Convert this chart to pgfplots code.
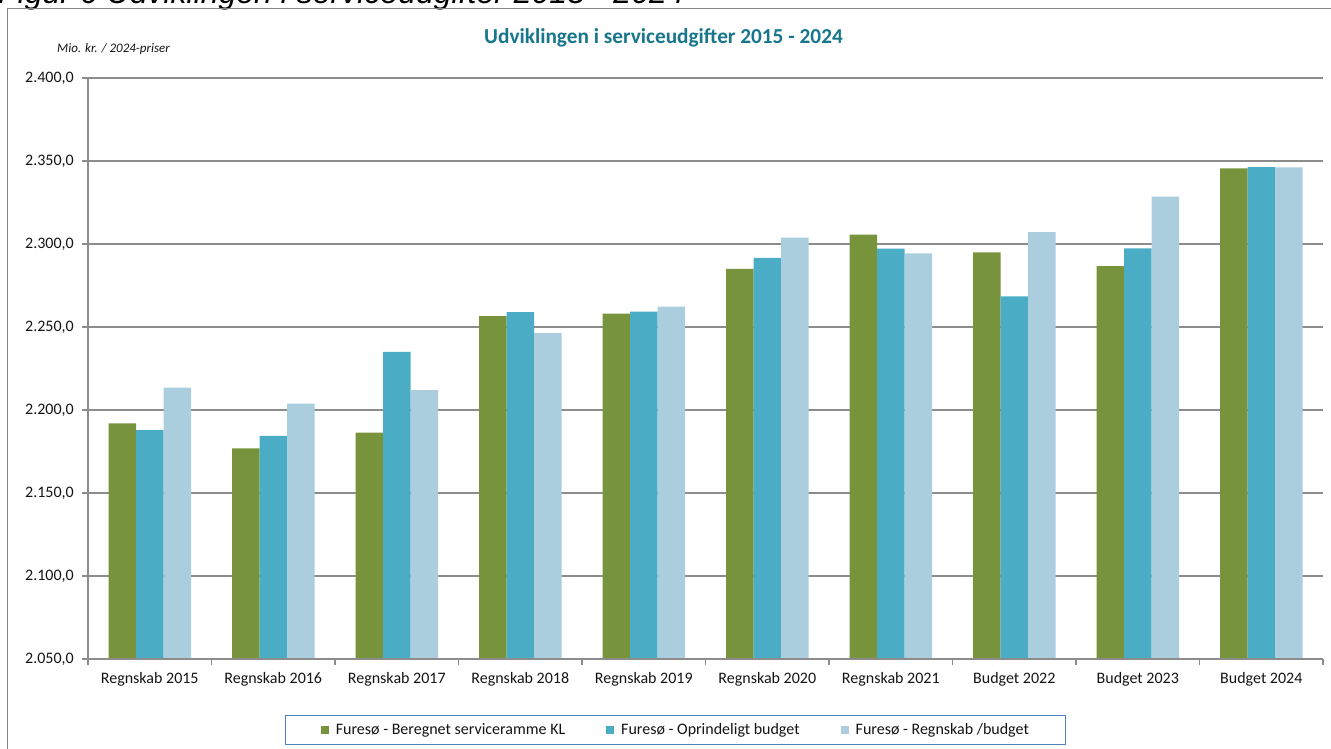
\documentclass[border=0pt]{standalone}
\usepackage{pgfplots}
\pgfplotsset{compat=1.18}
\usepackage{pgfplotstable}
\usepackage{fontspec}
\setmainfont{Carlito}
\newfontfamily\arialfont{Liberation Sans}
\definecolor{cgreen}{RGB}{119,147,60}
\definecolor{cblue}{RGB}{75,172,198}
\definecolor{clight}{RGB}{170,206,221}
\definecolor{cgrid}{RGB}{140,140,140}
\definecolor{ctitle}{RGB}{23,118,140}
\definecolor{clegbox}{RGB}{79,129,189}
\definecolor{ctext}{RGB}{20,20,20}
\definecolor{cframe}{RGB}{134,134,134}

\pgfplotstableread{
x g b l
0 2192.0 2187.8 2213.5
1 2176.9 2184.4 2203.8
2 2186.4 2235.0 2212.0
3 2256.6 2258.9 2246.3
4 2258.0 2259.3 2262.2
5 2285.0 2291.6 2303.8
6 2305.7 2297.2 2294.4
7 2294.9 2268.5 2307.2
8 2286.7 2297.3 2328.5
9 2345.5 2346.3 2346.1
}\data

\begin{document}
\begin{tikzpicture}
\path[use as bounding box, clip] (0pt,0pt) rectangle (1331pt,749pt);
\node[anchor=base west, font=\arialfont\itshape\fontsize{32}{38}\selectfont, text=black, inner sep=0pt] at (-2pt,745.5pt) {Figur 6 Udviklingen i serviceudgifter 2015 - 2024};
\draw[cframe, line width=1.2pt] (7.5pt,-20pt) -- (7.5pt,740.3pt) -- (1350pt,740.3pt);
\node[anchor=base, font=\bfseries\fontsize{21.3}{25}\selectfont, text=ctitle, inner sep=0pt] at (663.5pt,705.5pt) {Udviklingen i serviceudgifter 2015 - 2024};
\node[anchor=base west, font=\itshape\fontsize{13}{15}\selectfont, text=ctext, inner sep=0pt] at (57pt,696pt) {Mio. kr. / 2024-priser};
\begin{axis}[
  at={(88pt,90pt)}, anchor=south west,
  scale only axis, width=1235pt, height=581pt,
  ybar=0pt, bar width=27.5pt,
  xmin=-0.5, xmax=9.5, ymin=2050, ymax=2400,
  clip mode=individual,
  axis line style={draw=none},
  xtick={0,...,9},
  xticklabels={Regnskab 2015,Regnskab 2016,Regnskab 2017,Regnskab 2018,Regnskab 2019,Regnskab 2020,Regnskab 2021,Budget 2022,Budget 2023,Budget 2024},
  minor xtick={-0.5,0.5,...,9.5},
  xtick pos=bottom, ytick pos=left,
  major x tick style={draw=none},
  minor x tick style={cgrid, line width=1.2pt},
  major y tick style={cgrid, line width=1.2pt},
  tick align=outside,
  major tick length=6pt, minor tick length=6pt,
  ytick={2050,2100,...,2400},
  ymajorgrids, major grid style={cgrid, line width=1.3pt},
  /pgf/number format/.cd, fixed, fixed zerofill, precision=1, use comma, 1000 sep={.}, assume math mode=true,
  /pgfplots/.cd,
  yticklabel style={font=\fontsize{16}{19}\selectfont, text=ctext, inner sep=0pt, xshift=-8pt},
  xticklabel style={font=\fontsize{16}{19}\selectfont, text=ctext, inner sep=0pt, yshift=-7pt},
  legend columns=3,
  legend image code/.code={\fill[#1] (0pt,-4pt) rectangle (8pt,4pt);},
  legend style={at={(0.476,-0.122)}, anchor=center, draw=clegbox, line width=1pt,
    font=\fontsize{16}{19}\selectfont, text=ctext, inner xsep=35pt, inner ysep=6pt,
    /tikz/every odd column/.append style={column sep=5pt},
    /tikz/every even column/.append style={column sep=39pt}},
]
\addplot[fill=cgreen, draw=none] table[x=x,y=g]{\data};
\addplot[fill=cblue, draw=none] table[x=x,y=b]{\data};
\addplot[fill=clight, draw=none] table[x=x,y=l]{\data};
\legend{Furesø - Beregnet serviceramme KL,Furesø - Oprindeligt budget,Furesø - Regnskab /budget}
\draw[cgrid, line width=1.3pt] (rel axis cs:0,0) -- (rel axis cs:0,1);
\draw[cgrid, line width=1.3pt] (rel axis cs:0,0) -- (rel axis cs:1,0);
\end{axis}
\end{tikzpicture}
\end{document}
